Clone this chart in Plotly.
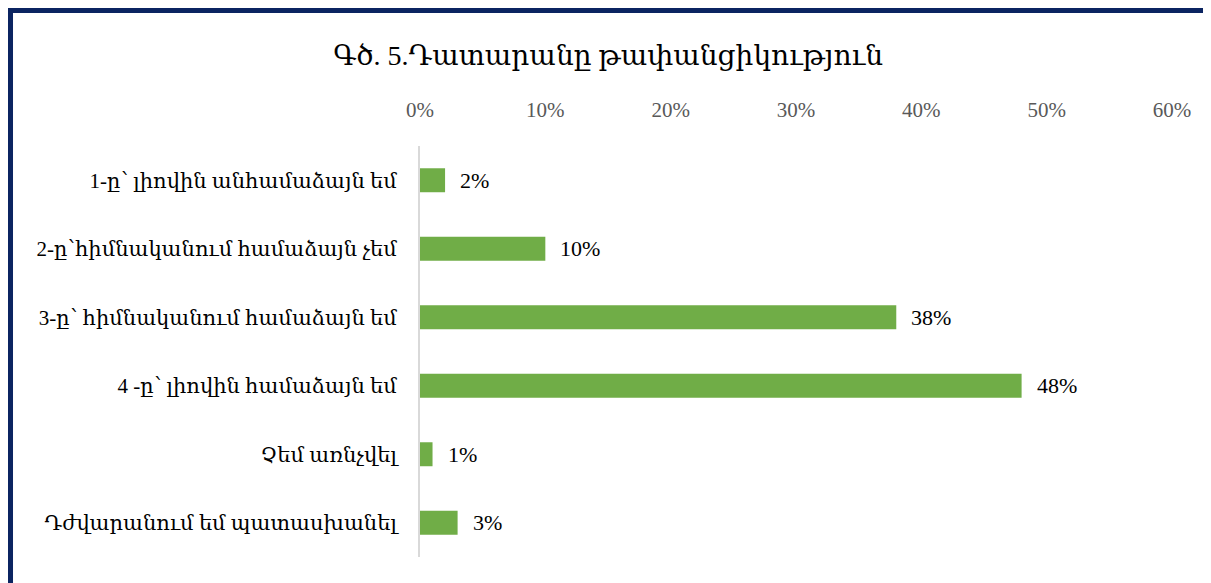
import plotly.graph_objects as go

# survey answers (top to bottom) and share of respondents, %
categories = [
    "1-ը՝ լիովին անհամաձայն եմ",
    "2-ը՝հիմնականում համաձայն չեմ",
    "3-ը՝ հիմնականում համաձայն եմ",
    "4 -ը՝ լիովին համաձայն եմ",
    "Չեմ առնչվել",
    "Դժվարանում եմ պատասխանել",
]
shares = [2, 10, 38, 48, 1, 3]
labels = [f"{v}%" for v in shares]
tick_vals = [0, 10, 20, 30, 40, 50, 60]
tick_text = [f"{v}%" for v in tick_vals]

FONT = "Liberation Serif, DejaVu Serif, serif"
GREEN = "#70AD47"
NAVY = "#0B2461"

fig = go.Figure()
fig.add_trace(go.Bar(
    x=shares, y=categories, orientation="h",
    marker=dict(color=GREEN, line=dict(width=0)),
    width=0.35, hoverinfo="skip",
))

# value labels just right of each bar
for v, c, t in zip(shares, categories, labels):
    fig.add_annotation(x=v, y=c, text=t, showarrow=False,
                       xanchor="left", xshift=13,
                       font=dict(family=FONT, size=22, color="#000000"))

fig.update_layout(
    width=1211, height=583,
    margin=dict(l=412, r=47, t=138, b=34),
    paper_bgcolor="white", plot_bgcolor="white",
    showlegend=False,
    font=dict(family=FONT),
    title=dict(text="Գծ. 5.Դատարանը թափանցիկություն",
               x=0.4955, xanchor="center", y=0.919, yanchor="middle",
               font=dict(family=FONT, size=28, color="#000000")),
    xaxis=dict(side="top", range=[0, 60], tickvals=tick_vals, ticktext=tick_text,
               showgrid=False, zeroline=False, showline=False, ticks="",
               ticklabelstandoff=24, fixedrange=True,
               tickfont=dict(family=FONT, size=21, color="#595959")),
    yaxis=dict(autorange="reversed", showgrid=False, zeroline=False,
               showline=True, linecolor="#D9D9D9", linewidth=2, ticks="",
               ticklabelstandoff=17,
               tickfont=dict(family=FONT, size=21, color="#000000")),
)

# dark navy frame around the chart
fig.add_shape(type="rect", xref="paper", yref="paper",
              x0=-0.5452, x1=1.0465, y0=-0.0998, y1=1.3309,
              line=dict(color=NAVY, width=6), fillcolor="rgba(0,0,0,0)")

fig.write_html("out.html")
